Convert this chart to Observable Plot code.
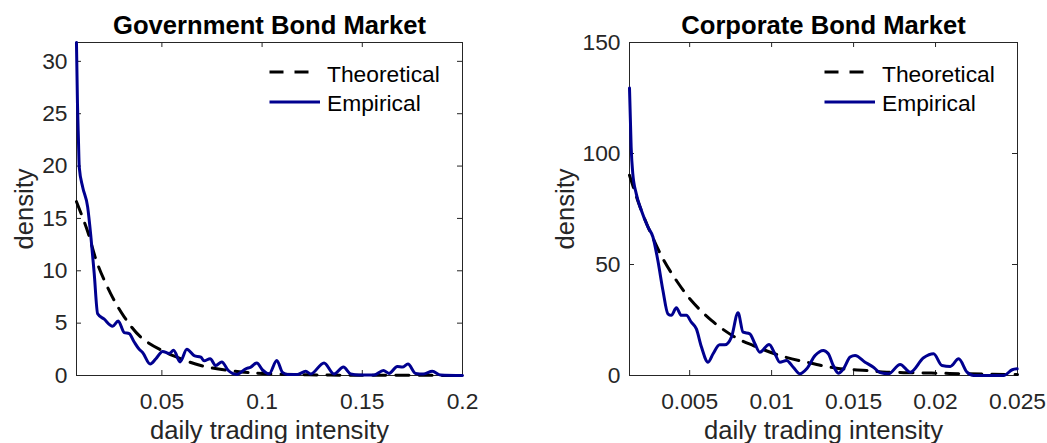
<!DOCTYPE html>
<html>
<head>
<meta charset="utf-8">
<script src="https://cdn.jsdelivr.net/npm/d3@7"></script>
<script src="https://cdn.jsdelivr.net/npm/@observablehq/plot@0.6"></script>
<style>
  html, body { margin: 0; padding: 0; background: #fff; }
  #wrap { display: flex; width: 1047px; height: 443px; }
</style>
</head>
<body>
<div id="wrap"></div>
<script>
// ---------- Government Bond Market ----------
const govEmpX = [0.00738, 0.00788, 0.00837, 0.00877, 0.01047, 0.01296, 0.01461, 0.01625, 0.01795, 0.02109,
  0.02542, 0.02822, 0.03121, 0.03370, 0.03619, 0.03868, 0.04038, 0.04417, 0.04701, 0.05035,
  0.05364, 0.05583, 0.05912, 0.06246, 0.06610, 0.06944, 0.07109, 0.07408, 0.07692, 0.07991,
  0.08305, 0.08739, 0.09187, 0.09437, 0.09736, 0.10020, 0.10349, 0.10733, 0.11017, 0.11266,
  0.11765, 0.12178, 0.12428, 0.13091, 0.13589, 0.14058, 0.14422, 0.14836, 0.15583, 0.16052,
  0.16331, 0.16750, 0.16999, 0.17278, 0.17662, 0.18046, 0.18495, 0.18908, 0.2];
const govEmpY = [31.8, 26, 22.5, 19.9, 18.0, 16.1, 13.2, 9.7, 5.9, 5.4,
  4.7, 5.2, 4.1, 4.0, 3.2, 2.5, 2.2, 1.1, 1.6, 2.3,
  2.1, 2.4, 1.3, 2.5, 1.9, 1.75, 1.4, 1.6, 0.95, 1.3,
  0.5, 0.1, 0.64, 0.8, 1.2, 0.54, 0.15, 1.43, 0.3, 0.1,
  0.1, 0.4, 0.15, 1.2, 0.15, 0.8, 0.15, 0.05, 0.05, 0.48,
  0.2, 0.86, 0.8, 1.1, 0.2, 0.15, 0.4, 0.05, 0.0];
const govTheoX = [0.0074, 0.0128, 0.0178, 0.0245, 0.0312, 0.0395, 0.05, 0.0595, 0.0694, 0.086, 0.103, 0.13, 0.16, 0.2];
const govTheoY = [16.6, 13.85, 10.7, 7.8, 5.6, 3.66, 2.39, 1.6, 0.95, 0.41, 0.16, 0.05, 0.02, 0.01];
const govXDomain = [0.0074, 0.2];
const govYDomain = [0, 31.8];
const govXTicks = [0.05, 0.1, 0.15, 0.2];
const govXTickLabels = ["0.05", "0.1", "0.15", "0.2"];
const govYTicks = [0, 5, 10, 15, 20, 25, 30];
const govYTickLabels = ["0", "5", "10", "15", "20", "25", "30"];

// ---------- Corporate Bond Market ----------
const corpEmpX = [0.00133, 0.00143, 0.00153, 0.00174, 0.00205, 0.00245, 0.00276, 0.00306, 0.00337, 0.00367,
  0.00388, 0.00419, 0.00449, 0.00480, 0.00510, 0.00541, 0.00572, 0.00612, 0.00643, 0.00683,
  0.00714, 0.00755, 0.00795, 0.00826, 0.00867, 0.00898, 0.00928, 0.00985, 0.01020, 0.01050,
  0.01091, 0.01132, 0.01173, 0.01214, 0.01265, 0.01315, 0.01346, 0.01376, 0.01407, 0.01438,
  0.01479, 0.01509, 0.01570, 0.01621, 0.01662, 0.01713, 0.01784, 0.01846, 0.01927, 0.01988,
  0.02039, 0.02090, 0.02141, 0.02192, 0.02233, 0.02416, 0.02468, 0.02498];
const corpEmpY = [129.5, 102.9, 90.9, 81.9, 74.4, 66.9, 62.4, 51.8, 38.3, 27.8,
  27.1, 30.5, 27.1, 27.1, 24.0, 21.0, 12.8, 6.0, 9.8, 13.8,
  13.8, 17.3, 28.3, 19.5, 18.8, 14.3, 10.5, 14.0, 9.8, 6.0,
  6.8, 3.7, 0.75, 3.0, 9.0, 11.3, 9.8, 4.5, 1.05, 3.0,
  8.3, 9.0, 6.0, 3.7, 1.3, 0.75, 5.0, 1.5, 8.0, 9.8,
  4.5, 4.1, 7.5, 1.5, 0.0, 0.0, 2.6, 3.0];
const corpTheoX = [0.00133, 0.00194, 0.00255, 0.00337, 0.00419, 0.00510, 0.00633, 0.00776, 0.00888, 0.01050,
  0.01214, 0.01397, 0.01580, 0.01703, 0.01887, 0.02040, 0.02205, 0.025];
const corpTheoY = [90.2, 76.6, 65.4, 52.6, 42.8, 33.8, 24.8, 17.3, 13.5, 9.0,
  6.0, 3.3, 2.25, 1.5, 1.2, 1.0, 0.75, 0.4];
const corpXDomain = [0.00133, 0.025];
const corpYDomain = [0, 150];
const corpXTicks = [0.005, 0.01, 0.015, 0.02, 0.025];
const corpXTickLabels = ["0.005", "0.01", "0.015", "0.02", "0.025"];
const corpYTicks = [0, 50, 100, 150];
const corpYTickLabels = ["0", "50", "100", "150"];

const seriesNames = ["Theoretical", "Empirical"];
const titles = ["Government Bond Market", "Corporate Bond Market"];
const xLabel = "daily trading intensity";
const yLabel = "density";

const BLUE = "#00008f";
const AX = "#262626";
const FONT = "'Liberation Sans', Arial, Helvetica, sans-serif";
const LW = 3;

function rows(xs, ys) { return xs.map((x, i) => ({x, y: ys[i]})); }

function panel(cfg) {
  const {width, height, ml, mr, mt, mb} = cfg;
  const pw = width - ml - mr, ph = height - mt - mb;
  const tl = 5;
  const xFmt = d => cfg.xTickLabels[cfg.xTicks.indexOf(d)];
  const yFmt = d => cfg.yTickLabels[cfg.yTicks.indexOf(d)];
  const svg = Plot.plot({
    width, height,
    marginLeft: ml, marginRight: mr, marginTop: mt, marginBottom: mb,
    style: {fontFamily: FONT, background: "#fff"},
    x: {domain: cfg.xDomain, axis: null},
    y: {domain: cfg.yDomain, axis: null},
    marks: [
      Plot.frame({stroke: AX, strokeWidth: 1}),
      Plot.tickY(cfg.yTicks, {y: d => d, stroke: AX, strokeWidth: 1, insetRight: pw - tl}),
      Plot.tickY(cfg.yTicks, {y: d => d, stroke: AX, strokeWidth: 1, insetLeft: pw - tl}),
      Plot.tickX(cfg.xTicks, {x: d => d, stroke: AX, strokeWidth: 1, insetTop: ph - tl}),
      Plot.tickX(cfg.xTicks, {x: d => d, stroke: AX, strokeWidth: 1, insetBottom: ph - tl}),
      Plot.axisX(cfg.xTicks, {anchor: "bottom", tickSize: 0, tickPadding: 17, tickFormat: xFmt, label: null, fontSize: 22.8, fill: AX}),
      Plot.axisY(cfg.yTicks, {anchor: "left", tickSize: 0, tickPadding: 9, tickFormat: yFmt, label: null, fontSize: 22.8, fill: AX}),
      Plot.line(rows(cfg.theoX, cfg.theoY), {x: "x", y: "y", stroke: "#000", strokeWidth: LW, strokeDasharray: "13,10", curve: "catmull-rom"}),
      Plot.line(rows(cfg.empX, cfg.empY), {x: "x", y: "y", stroke: BLUE, strokeWidth: LW, curve: "monotone-x"}),
      Plot.text([cfg.title], {frameAnchor: "top", textAnchor: "middle", dy: -9, lineAnchor: "bottom", fontSize: 25.6, fontWeight: "bold", fill: "#000", text: d => d}),
      Plot.text([xLabel], {frameAnchor: "bottom", textAnchor: "middle", dy: 63, lineAnchor: "bottom", fontSize: 25.6, fill: AX, text: d => d}),
      Plot.text([yLabel], {frameAnchor: "left", textAnchor: "middle", dx: cfg.yLabelDx, rotate: -90, lineAnchor: "bottom", fontSize: 25.6, fill: AX, text: d => d})
    ]
  });
  // legend (no box)
  const g = d3.select(svg).append("g").attr("font-family", FONT).attr("font-size", 22.8).attr("text-anchor", "start");
  const fr = width - mr;
  g.append("line").attr("x1", fr - 192.5).attr("x2", fr - 152).attr("y1", 72).attr("y2", 72)
    .attr("stroke", "#000").attr("stroke-width", LW).attr("stroke-dasharray", "14,11");
  g.append("line").attr("x1", fr - 192.5).attr("x2", fr - 142).attr("y1", 102).attr("y2", 102)
    .attr("stroke", BLUE).attr("stroke-width", LW);
  g.append("text").attr("x", fr - 135).attr("y", 81.5).attr("fill", "#000").attr("text-anchor", "start").text(seriesNames[0]);
  g.append("text").attr("x", fr - 135).attr("y", 110.5).attr("fill", "#000").attr("text-anchor", "start").text(seriesNames[1]);
  return svg;
}

const wrap = document.getElementById("wrap");
wrap.appendChild(panel({
  width: 523, height: 443, ml: 76, mr: 61, mt: 42, mb: 68,
  xDomain: govXDomain, yDomain: govYDomain,
  xTicks: govXTicks, xTickLabels: govXTickLabels, yTicks: govYTicks, yTickLabels: govYTickLabels,
  empX: govEmpX, empY: govEmpY, theoX: govTheoX, theoY: govTheoY,
  title: titles[0], yLabelDx: -44
}));
wrap.appendChild(panel({
  width: 524, height: 443, ml: 106, mr: 30, mt: 42, mb: 68,
  xDomain: corpXDomain, yDomain: corpYDomain,
  xTicks: corpXTicks, xTickLabels: corpXTickLabels, yTicks: corpYTicks, yTickLabels: corpYTickLabels,
  empX: corpEmpX, empY: corpEmpY, theoX: corpTheoX, theoY: corpTheoY,
  title: titles[1], yLabelDx: -56
}));
</script>
</body>
</html>
